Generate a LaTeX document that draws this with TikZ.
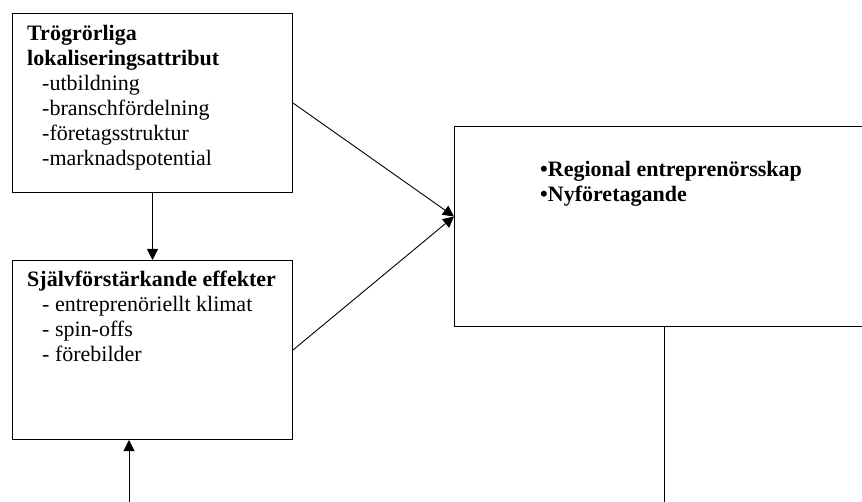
\documentclass[tikz,border=0pt]{standalone}
\usepackage{fontspec}
\setmainfont{Liberation Serif}
\usetikzlibrary{arrows.meta,positioning,calc}

\begin{document}
\begin{tikzpicture}[x=1pt,y=-1pt,>={Triangle[length=11pt,width=11pt]},
	box/.style={draw,line width=1pt,inner sep=0pt,minimum width=280pt,minimum height=179pt},
	txt/.style={inner sep=0pt,align=left,anchor=base west,font=\fontsize{22}{25}\selectfont},
	arr/.style={->,line width=0.9pt}]
	\useasboundingbox (0,0) rectangle (862,502);
	% boxes
	\node (attr) [box,anchor=north west] at (12,13) {};
	\node (effekt) [box,below=67pt of attr] {};
	\node (entre) [box,minimum width=420pt,minimum height=200pt,anchor=north west] at (454,126) {};
	% texts (base anchor sits on the last line)
	\node (attrtxt) [txt] at ([xshift=15pt,yshift=-153pt]attr.north west) {
		\textbf{Trögrörliga}\\
		\textbf{lokaliseringsattribut}\\
		\hspace*{15pt}-utbildning\\
		\hspace*{15pt}-branschfördelning\\
		\hspace*{15pt}-företagsstruktur\\
		\hspace*{15pt}-marknadspotential
	};
	\node (effekttxt) [txt] at ([xshift=15pt,yshift=-102pt]effekt.north west) {
		\textbf{Självförstärkande effekter}\\
		\hspace*{15pt}- entreprenöriellt klimat\\
		\hspace*{15pt}- spin-offs\\
		\hspace*{15pt}- förebilder
	};
	\node (entretxt) [txt] at ([xshift=86pt,yshift=-76pt]entre.north west) {
		\textbf{•Regional entreprenörsskap}\\
		\textbf{•Nyföretagande}
	};
	% connectors
	\coordinate (mal) at ($(entre.west)+(0,-10)$);
	\coordinate (nedre) at (129,510);
	\draw[arr] (attr) -- (effekt);
	\draw[arr] (attr.east) -- (mal);
	\draw[arr] (effekt.east) -- (mal);
	\draw[arr] (nedre) -- (nedre |- effekt.south);
	\draw[line width=1.2pt] (entre.south) -- (entre.south |- nedre);
\end{tikzpicture}
\end{document}
